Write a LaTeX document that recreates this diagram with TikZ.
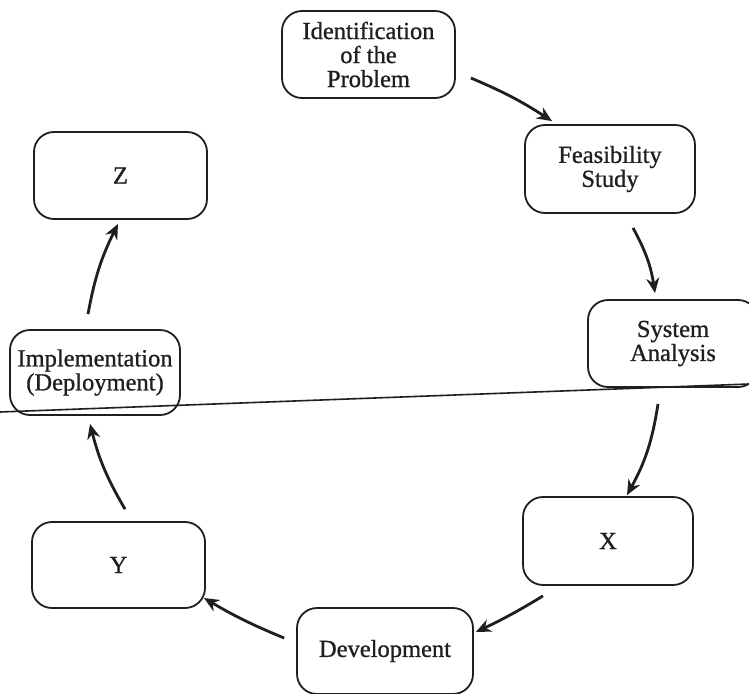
\documentclass[tikz,border=0pt]{standalone}
\usepackage{fontspec}
\setmainfont{Liberation Serif}
\newfontfamily\diagfont{Liberation Serif}[FakeBold=0.9]
\usetikzlibrary{arrows.meta,calc}
\definecolor{ink}{HTML}{1f1f1f}
\tikzset{
  stagebox/.style={draw=ink, line width=1.8pt, rounded corners=20pt, inner sep=0pt,
    align=center, text=ink, font=\diagfont\fontsize{24.5}{24}\selectfont},
  flow/.style={draw=ink, line width=2.8pt, -{Stealth[length=15pt,width=13pt]}},
  scanline/.style={draw=ink, line width=1.6pt}
}
\begin{document}
\begin{tikzpicture}[x=1pt,y=1pt]
\clip (0,0) rectangle (749,-693);
\fill[white] (0,0) rectangle (749,-693);
\node[stagebox, minimum width=173pt, minimum height=87pt] (ident) at (368.5,-54.5) {Identification\\of the\\Problem};
\node[stagebox, minimum width=170pt, minimum height=88pt] (feas) at (610,-169) {Feasibility\\Study};
\node[stagebox, minimum width=170pt, minimum height=87pt] (sa) at (673,-343.5) {System\\Analysis};
\node[stagebox, minimum width=170pt, minimum height=88pt] (xbox) at (608,-541) {X};
\node[stagebox, minimum width=176pt, minimum height=86pt] (dev) at (385,-651) {Development};
\node[stagebox, minimum width=173pt, minimum height=86pt] (ybox) at (118.5,-565) {Y};
\node[stagebox, minimum width=170pt, minimum height=85pt] (impl) at (95,-372.5) {Implementation\\(Deployment)};
\node[stagebox, minimum width=173pt, minimum height=87pt] (zbox) at (120.5,-175.5) {Z};
\draw[flow] ($(ident.east)+(15,-23.5)$) to[bend left=5] ($(feas.north)+(-58,3)$);
\draw[flow] ($(feas.south)+(23,-14)$) to[bend left=10] ($(sa.north)+(-18,6)$);
\draw[flow] ($(sa.south)+(-15,-16)$) to[bend left=10] ($(xbox.north)+(19,1)$);
\draw[flow] ($(xbox.south)+(-65,-10)$) to[bend left=3] ($(dev.east)+(2,19)$);
\draw[flow] ($(dev.west)+(-12,13)$) to[bend left=4] ($(ybox.east)+(-2,-33)$);
\draw[flow] ($(ybox.north)+(6.5,12)$) to[bend left=8] ($(impl.south)+(-5,-8)$);
\draw[flow] ($(impl.north)+(-7,15)$) to[bend left=8] ($(zbox.south)+(-2.5,-4)$);
\draw[scanline] (0,-412) -- (749,-384);
\end{tikzpicture}
\end{document}
